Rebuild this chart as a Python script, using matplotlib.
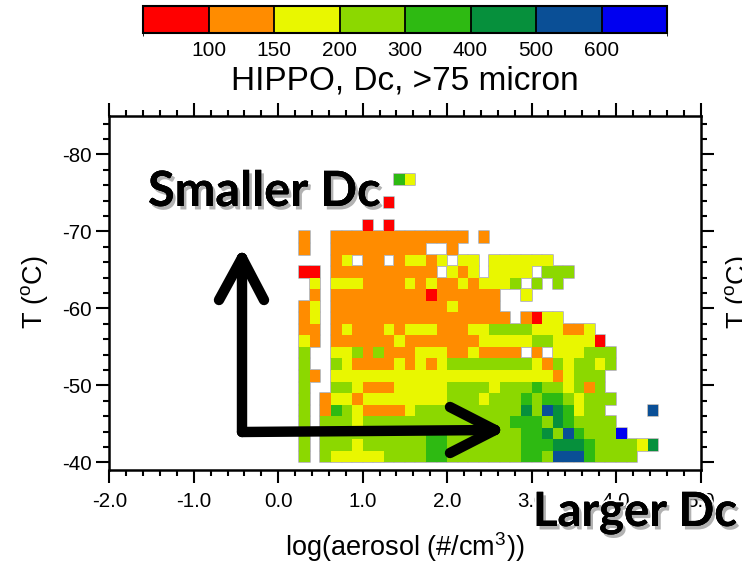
import numpy as np
import matplotlib
matplotlib.use('Agg')
import matplotlib.pyplot as plt
from matplotlib.colors import ListedColormap, BoundaryNorm
import matplotlib.colorbar as mcolorbar
import matplotlib.patheffects as pe
from matplotlib.lines import Line2D
from matplotlib.collections import PolyCollection
from matplotlib.ticker import MultipleLocator

plt.rcParams['font.family'] = ['Liberation Sans', 'DejaVu Sans']
plt.rcParams['axes.unicode_minus'] = False

# ---- Dc classes (micron) ----
dc_bounds = [0, 100, 150, 200, 300, 400, 500, 600, 700]
dc_ticks = [100, 150, 200, 300, 400, 500, 600]
dc_tick_labels = ['100', '150', '200', '300', '400', '500', '600']
dc_colors = ['#FF0000', '#FF8C00', '#E9F700', '#8CD800', '#2EBA12',
             '#06903C', '#0A4F96', '#0000F0']
class_codes = 'ROYLGDBU'          # one letter per Dc class, '.' = no data
class_values = [75, 125, 175, 250, 350, 450, 550, 650]

# ---- bins ----
aerosol_start = 0.25     # log(aerosol) left edge of first column
aerosol_step = 0.125
temp_start = -40.0       # temperature of lowest row edge
temp_step = -1.5

# rows from T=-40 (bottom) upward; columns from log(aerosol)=0.25
dc_rows = [
    "L.LYYYYYLL LLGGLLLLLL LGGLBBBGLL LL..",
    "L.LLLYLLLL LLGGLLLLLL LGGGDDDGLL LLYD",
    "L.LLLLLLLL LLGGLLLLLL LGGDLBGLLL U...",
    "L.LLLYLLLL LLLLLLLLLL GGGLDGLLLL ....",
    "L.OGLYOOOO YLLLLLLLLL LDLBDGYLL. ...B",
    "L.OYYOYYYY YYYYLLLYLL LGLGGLYLLL ....",
    "L..LLYOOOY YYYYLLLLYL LLGLLYLOL. ....",
    "LO.YYYYYYY YYYYYYYYYY YYYYOYLLL. ....",
    "L..LYOOOOY OYOYLLLLLL LLYOLYLLYL ....",
    "L..YYLOLOO OYYYOOYOOO O.O.YYYLLL ....",
    "YO.OOOOOOY OOOOOOOYYY YYLLYYYYR. ....",
    "OO.OYOOOYO YYYOOOYYLL LLYYYOOY.. ....",
    "OY.OOOOOOO OOOOOOOOOO .ORYY..... ....",
    "OY.OOOOOOO OOOOYOOOO. .......... ....",
    ".O.OOOOOOO OOROOOOOO. .Y........ ....",
    ".Y.YYYOOOO YOYOOYOYYY L.L.L..... ....",
    "RR.OOOOOOO OOO.YOY.YY YY.LLL.... ....",
    "...OY.OO.O YYOY.YY.YY YYYY...... ....",
    "O..OOOOOOO OO..O..... .......... ....",
    "O..OOOOOOO OOOOOO.O.. .......... ....",
    "......R.R. .......... .......... ....",
    ".......... .......... .......... ....",
    "........R. .......... .......... ....",
    ".......... .......... .......... ....",
    ".........G Y......... .......... ....",
]

rows = [r.replace(' ', '') for r in dc_rows]
ncol = max(len(r) for r in rows)
nrow = len(rows)
Z = np.full((nrow, ncol), np.nan)
for i, r in enumerate(rows):
    for j, ch in enumerate(r):
        if ch in class_codes:
            Z[i, j] = class_values[class_codes.index(ch)]
x_edges = aerosol_start + aerosol_step * np.arange(ncol + 1)
t_edges = temp_start + temp_step * np.arange(nrow + 1)

cmap = ListedColormap(dc_colors)
norm = BoundaryNorm(dc_bounds, cmap.N)

W, H = 742, 564
fig = plt.figure(figsize=(W / 100, H / 100), dpi=100)

def fx(px):
    return px / W

def fy(py):
    return 1 - py / H

ax = fig.add_axes([fx(109.3), fy(470), fx(700.5) - fx(109.3), fy(116) - fy(470)])

# faint grey outline around the filled cells
cells = []
for i in range(nrow):
    for j in range(ncol):
        if not np.isnan(Z[i, j]):
            x0, x1 = x_edges[j], x_edges[j + 1]
            y0, y1 = t_edges[i], t_edges[i + 1]
            cells.append([(x0, y0), (x1, y0), (x1, y1), (x0, y1)])
ax.add_collection(PolyCollection(cells, facecolors='#AAAAAA', edgecolors='#B4B4B4',
                                 linewidths=1.3))
ax.pcolormesh(x_edges, t_edges, np.ma.masked_invalid(Z), cmap=cmap, norm=norm,
              shading='flat', antialiased=False, edgecolors='none')
ax.set_xlim(-2.0, 5.0)
ax.set_ylim(-39.0, -85.0)
ax.xaxis.set_minor_locator(MultipleLocator(0.2))
ax.yaxis.set_minor_locator(MultipleLocator(2))
ax.set_xticks([-2, -1, 0, 1, 2, 3, 4, 5])
ax.set_xticklabels(['-2.0', '-1.0', '0.0', '1.0', '2.0', '3.0', '4.0', '5.0'])
ax.set_yticks([-80, -70, -60, -50, -40])
ax.set_yticklabels(['-80', '-70', '-60', '-50', '-40'])
ax.tick_params(which='both', direction='out', top=True, right=True, width=1.5,
               labelsize=14.8)
ax.tick_params(which='major', length=9.5)
ax.tick_params(which='minor', length=4.5)
ax.tick_params(axis='x', pad=6)
ax.tick_params(axis='y', pad=3)
for s in ax.spines.values():
    s.set_linewidth(1.8)

fig.text(fx(404.5), fy(547), r'log(aerosol (#/cm$^\mathregular{3}$))', fontsize=19.5,
         ha='center', va='center')
fig.text(fx(35), fy(292), r'T ($^\mathregular{o}$C)', fontsize=19.5, rotation=90,
         ha='center', va='center')
fig.text(fx(738), fy(292), r'T ($^\mathregular{o}$C)', fontsize=19.5, rotation=90,
         ha='center', va='center')

# ---- colorbar ----
cax = fig.add_axes([fx(143), fy(33), fx(667) - fx(143), fy(6) - fy(33)])
cb = mcolorbar.ColorbarBase(cax, cmap=cmap, norm=norm, boundaries=dc_bounds,
                            spacing='uniform', orientation='horizontal',
                            drawedges=True, ticks=dc_ticks)
cb.set_ticklabels(dc_tick_labels)
cb.outline.set_linewidth(1.5)
cb.dividers.set_linewidth(1.3)
cax.tick_params(length=0, labelsize=15, pad=6)

fig.text(fx(404.5), fy(81), 'HIPPO, Dc, >75 micron', fontsize=24,
         ha='center', va='center')

# ---- annotations ----
shadow = [pe.withStroke(linewidth=3, foreground='white'),
          pe.withSimplePatchShadow(offset=(2, -2.5), shadow_rgbFace='0.45', alpha=0.55),
          pe.Normal()]
fig.text(fx(148), fy(206), 'Smaller Dc', fontsize=35, fontweight='bold',
         family=['Lato', 'DejaVu Sans'], ha='left', va='baseline',
         color='black', path_effects=shadow, zorder=20)
fig.text(fx(533), fy(526), 'Larger Dc', fontsize=34, fontweight='bold',
         family=['Lato', 'DejaVu Sans'], ha='left', va='baseline',
         color='black', path_effects=shadow, zorder=20)

def seg(p0, p1):
    fig.add_artist(Line2D([fx(p0[0]), fx(p1[0])], [fy(p0[1]), fy(p1[1])],
                          transform=fig.transFigure, color='black', lw=7.5,
                          solid_capstyle='round', zorder=10))

seg((242, 432), (242, 258))
seg((242, 258), (219, 300))
seg((242, 258), (264, 300))
seg((242, 432), (495, 430))
seg((495, 430), (450, 407))
seg((495, 430), (450, 453))

fig.savefig('out.png', dpi=100)
